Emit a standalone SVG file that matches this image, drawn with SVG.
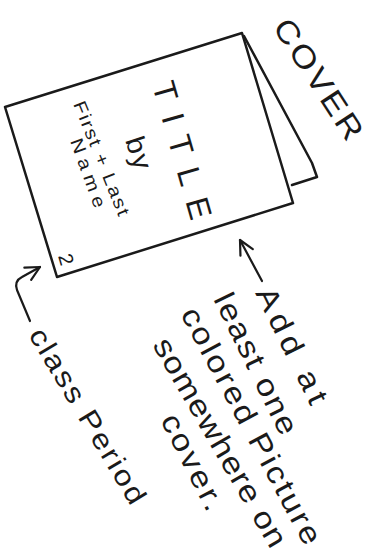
<svg xmlns="http://www.w3.org/2000/svg" width="375" height="559" viewBox="0 0 375 559">
  <defs>
    <marker id="head" markerUnits="userSpaceOnUse" markerWidth="24" markerHeight="24" refX="18" refY="10" orient="auto" overflow="visible">
      <path d="M4,3 L18,10 L4,17" fill="none" stroke="#1a1a1a" stroke-width="2.2" stroke-linecap="round" stroke-linejoin="round"/>
    </marker>
  </defs>
  <style>
    .ln { fill: none; stroke: #1a1a1a; stroke-width: 2.5; stroke-linejoin: round; stroke-linecap: round; }
    .card { fill: #ffffff; stroke: #1a1a1a; stroke-width: 2.5; stroke-linejoin: round; }
    .arrow { fill: none; stroke: #1a1a1a; stroke-width: 2.2; stroke-linecap: round; stroke-linejoin: round; marker-end: url(#head); }
    text { font-family: "Liberation Sans", "DejaVu Sans", sans-serif; fill: #1a1a1a; }
  </style>
  <rect width="375" height="559" fill="#ffffff"/>

  <g id="back-page">
    <polyline class="ln" points="244,36 312,163 317,177 292,185"/>
  </g>

  <g id="front-cover">
    <polygon class="card" points="5,107 242,33 293,203 57,277"/>
    <text transform="translate(152,85) rotate(74)" font-size="32" textLength="142" lengthAdjust="spacing">TITLE</text>
    <text transform="translate(125,140) rotate(72) scale(1.1,1)" font-size="27" textLength="30" lengthAdjust="spacing">by</text>
    <text transform="translate(73,104) rotate(68) scale(1.15,1)" font-size="18" textLength="106" lengthAdjust="spacing">First + Last</text>
    <text transform="translate(70,141) rotate(70) scale(1.15,1)" font-size="18" textLength="63" lengthAdjust="spacing">Name</text>
    <text transform="translate(58,256) rotate(74)" font-size="20">2</text>
  </g>

  <g id="cover-label">
    <text transform="translate(272,27) rotate(57) scale(1.15,1)" font-size="31" textLength="120" lengthAdjust="spacing">COVER</text>
  </g>

  <g id="picture-note">
    <text transform="translate(255,293) rotate(63.8) scale(1.15,1)" font-size="30" textLength="110" lengthAdjust="spacing">Add at</text>
    <text transform="translate(213,299) rotate(63.8) scale(1.15,1)" font-size="30" textLength="134" lengthAdjust="spacing">least one</text>
    <text transform="translate(180,314) rotate(61.8) scale(1.15,1)" font-size="30" textLength="230" lengthAdjust="spacing">colored Picture</text>
    <text transform="translate(152,345) rotate(59.9) scale(1.15,1)" font-size="30" textLength="206" lengthAdjust="spacing">somewhere on</text>
    <text transform="translate(160,420) rotate(63) scale(1.15,1)" font-size="30" textLength="91" lengthAdjust="spacing">cover.</text>
  </g>

  <g id="class-period">
    <text transform="translate(28,335) rotate(59) scale(1.15,1)" font-size="28" textLength="174" lengthAdjust="spacing">class Period</text>
  </g>

  <g id="connectors">
    <path class="arrow" d="M262,281 L240,240"/>
    <path class="arrow" d="M30,321 L17,290 Q14,281 22,277 L40,267"/>
  </g>
</svg>
